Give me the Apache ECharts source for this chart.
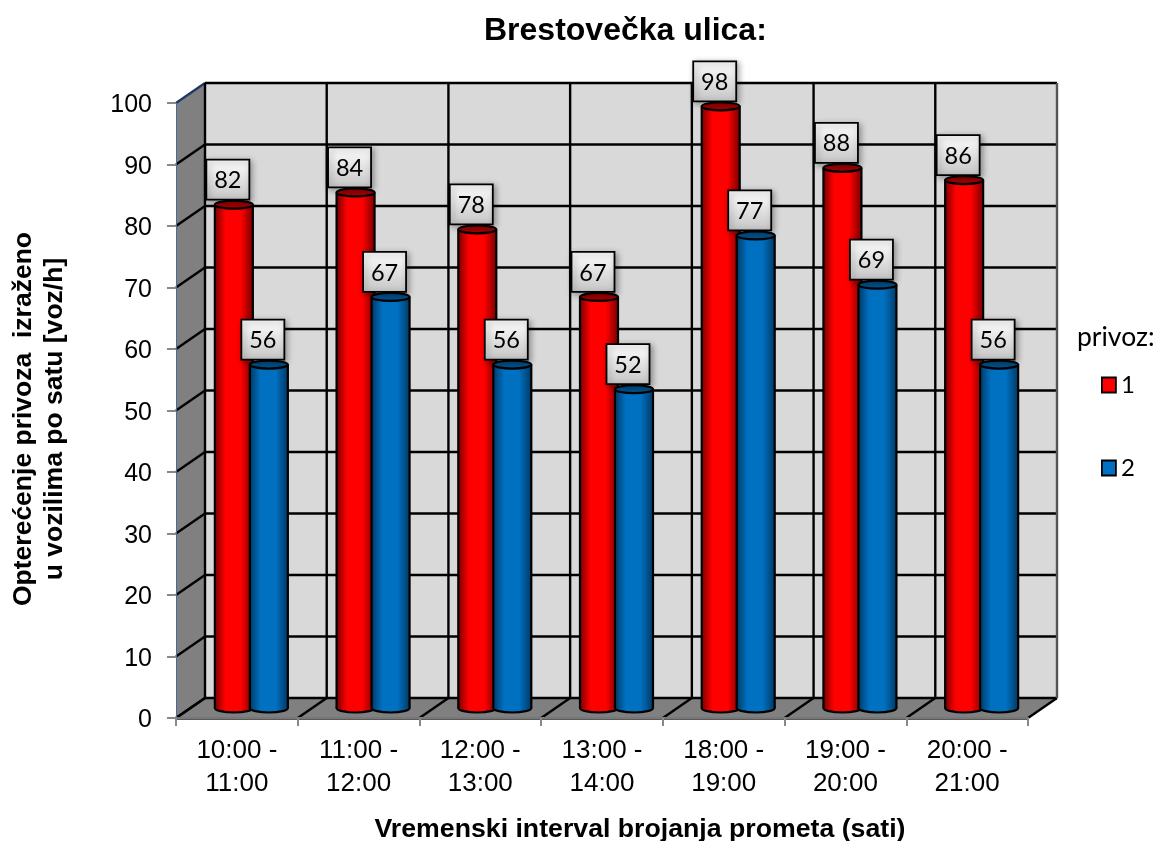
<!DOCTYPE html>
<html><head><meta charset="utf-8">
<style>html,body{margin:0;padding:0;background:#fff}#c{width:1157px;height:841px}</style>
<script src="https://cdn.jsdelivr.net/npm/echarts@6/dist/echarts.min.js"></script>
</head><body><div id="c"></div>
<script>
const categories = ['10:00 -\n11:00','11:00 -\n12:00','12:00 -\n13:00','13:00 -\n14:00','18:00 -\n19:00','19:00 -\n20:00','20:00 -\n21:00'];
const series1 = [82,84,78,67,98,88,86];
const series2 = [56,67,56,52,77,69,56];
const yTicks = [0,10,20,30,40,50,60,70,80,90,100];

const DX = 29, DY = -20;        // 3D depth of the box
const BW = 38, BSTEP = 35;      // cylinder width and spacing
const chart = echarts.init(document.getElementById('c'));

function wallItem(params, api) {
  const x0 = api.coord([0, 0]), xN = api.coord([categories.length-1, 0]);
  const step = (xN[0]-x0[0]) / (categories.length-1);
  const L = x0[0] - step/2, R = xN[0] + step/2;
  const T = api.coord([0, 100])[1], B = x0[1];
  const kids = [];
  const poly = (pts, fill) => kids.push({type:'polygon', shape:{points:pts}, style:{fill, stroke:null}});
  const line = (x1,y1,x2,y2,stroke,w) => kids.push({type:'line', shape:{x1,y1,x2,y2}, style:{stroke, lineWidth:w}});
  poly([[L+DX,T+DY],[R+DX,T+DY],[R+DX,B+DY],[L+DX,B+DY]], '#d9d9d9');
  poly([[L,T],[L+DX,T+DY],[L+DX,B+DY],[L,B]], '#808080');
  poly([[L,B],[L+DX,B+DY],[R+DX,B+DY],[R,B]], '#808080');
  yTicks.forEach(v => {
    const y = api.coord([0, v])[1];
    line(L, y, L+DX, y+DY, v === 100 ? '#1f3864' : '#000', 2.4);
    line(L+DX, y+DY, R+DX, y+DY, '#000', 2.4);
  });
  for (let i = 0; i <= categories.length; i++) {
    const x = L + i * step;
    line(x, B, x+DX, B+DY, '#000', 2.4);
    line(x+DX, T+DY, x+DX, B+DY, i === categories.length ? '#555' : '#000', 2.4);
  }
  line(L, B+1, R, B+1, '#222', 1.5);
  return {type:'group', children:kids};
}

function barRenderer(edge, mid, top, side) {
  return function (params, api) {
    const v = api.value(1);
    const p = api.coord([api.value(0), v]);
    const p0 = api.coord([api.value(0), 0]);
    const cx = p[0] + DX/2 + side * BSTEP/2;
    const yt = p[1] + DY/2 + 1;
    const yb = p0[1] + DY/2;
    const body = new echarts.graphic.LinearGradient(0,0,1,0,[
      {offset:0, color:edge},{offset:.28, color:mid},{offset:.68, color:mid},{offset:1, color:edge}]);
    const stroke = {stroke:'#000', lineWidth:2.2};
    return {type:'group', children:[
      {type:'ellipse', shape:{cx, cy:yb, rx:BW/2, ry:4.5}, style:{fill:body, ...stroke}},
      {type:'rect', shape:{x:cx-BW/2, y:yt, width:BW, height:yb-yt}, style:{fill:body, stroke:null}},
      {type:'line', shape:{x1:cx-BW/2,y1:yt,x2:cx-BW/2,y2:yb}, style:stroke},
      {type:'line', shape:{x1:cx+BW/2,y1:yt,x2:cx+BW/2,y2:yb}, style:stroke},
      {type:'ellipse', shape:{cx, cy:yt, rx:BW/2, ry:4}, style:{fill:top, ...stroke}},
      {type:'rect', shape:{x:cx-27.5, y:yt-45, width:43, height:40},
        style:{fill:new echarts.graphic.LinearGradient(0,0,0,1,[{offset:0,color:'#ffffff'},{offset:1,color:'#c4c4c4'}]),
          stroke:'#000', lineWidth:1.8, shadowBlur:6, shadowOffsetX:2, shadowOffsetY:2, shadowColor:'rgba(0,0,0,.35)'}},
      {type:'text', style:{x:cx-6, y:yt-24, text:String(v), fill:'#000', font:'23.5px Lato', align:'center', verticalAlign:'middle'}}
    ]};
  };
}

chart.setOption({
  animation:false,
  backgroundColor:'#fff',
  title:[
    {text:'Brestovečka ulica:', left:479, top:10, textStyle:{fontFamily:'Liberation Sans', fontWeight:'bold', fontSize:32, color:'#000'}},
    {text:'privoz:', left:1072, top:319, textStyle:{fontFamily:'Lato', fontWeight:'normal', fontSize:26.5, color:'#000'}}
  ],
  legend:{
    data:['1','2'], orient:'vertical', left:1096, top:368, itemGap:59, itemWidth:14, itemHeight:15, icon:'rect',
    itemStyle:{borderColor:'#000', borderWidth:1.8},
    textStyle:{fontFamily:'Lato', fontSize:24, color:'#000'}, selectedMode:false
  },
  grid:{left:176, right:129, top:103, bottom:123, containLabel:false, outerBoundsMode:'none'},
  xAxis:{
    type:'category', data:categories,
    axisLine:{lineStyle:{color:'#777', width:2}},
    axisTick:{show:true, alignWithLabel:false, length:8, lineStyle:{color:'#888', width:2}},
    axisLabel:{fontFamily:'Liberation Sans', fontSize:26, color:'#000', lineHeight:33, margin:16, interval:0},
    name:'Vremenski interval brojanja prometa (sati)', nameLocation:'middle', nameGap:98,
    nameTextStyle:{fontFamily:'Liberation Sans', fontWeight:'bold', fontSize:26.7, color:'#000', padding:[0,0,0,76]}
  },
  yAxis:{
    type:'value', min:0, max:100, interval:10,
    axisLine:{show:true, lineStyle:{color:'#4a6a9f', width:1}},
    axisTick:{show:true, length:9, lineStyle:{color:'#888', width:2}},
    splitLine:{show:false},
    axisLabel:{fontFamily:'Liberation Sans', fontSize:25, color:'#000', margin:24, verticalAlign:'top', lineHeight:5},
    name:'Opterećenje privoza  izraženo\nu vozilima po satu [voz/h]', nameLocation:'middle', nameGap:106, nameRotate:90,
    nameTextStyle:{fontFamily:'Liberation Sans', fontWeight:'bold', fontSize:26.5, color:'#000', lineHeight:31, align:'center', padding:[0,17,0,0]}
  },
  series:[
    {type:'custom', name:'wall', z:-1, silent:true, clip:false, data:[[0,0]], encode:{x:0,y:1}, renderItem:wallItem},
    {type:'custom', name:'1', z:2, clip:false, itemStyle:{color:'#ff0000'}, encode:{x:0,y:1},
      data:series1.map((v,i)=>[i,v]), renderItem:barRenderer('#7a0000','#ff0000','#a00000',-1)},
    {type:'custom', name:'2', z:3, clip:false, itemStyle:{color:'#0070c0'}, encode:{x:0,y:1},
      data:series2.map((v,i)=>[i,v]), renderItem:barRenderer('#003a66','#0070c0','#00508a',1)}
  ]
});
</script></body></html>
